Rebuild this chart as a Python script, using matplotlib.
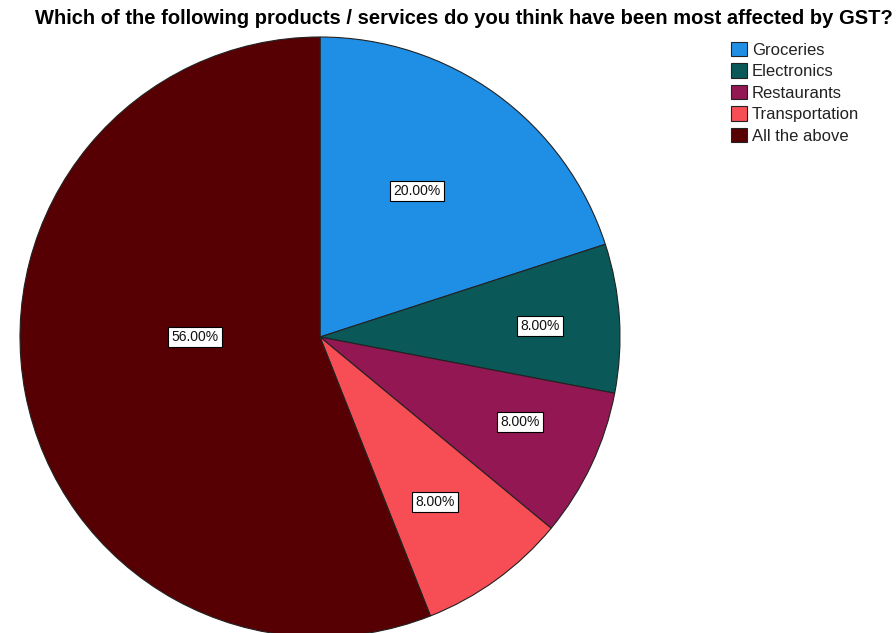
import numpy as np
import matplotlib.pyplot as plt

categories = ["Groceries", "Electronics", "Restaurants", "Transportation", "All the above"]
shares = [20.0, 8.0, 8.0, 8.0, 56.0]
colors = ["#1f8fe6", "#0b5858", "#931753", "#f74e56", "#560003"]
# where each percentage box sits: radius fraction and position along the wedge
label_r = [0.584, 0.734, 0.724, 0.67, 0.417]
label_frac = [0.467, 0.524, 0.424, 0.538, 0.554]

plt.rcParams["font.family"] = ["Liberation Sans", "DejaVu Sans"]

fig = plt.figure(figsize=(8.96, 6.33), dpi=100)
ax = fig.add_axes([20 / 896, -4 / 633, 600 / 896, 600 / 633])

wedges, _ = ax.pie(
    shares,
    colors=colors,
    startangle=90,
    counterclock=False,
    radius=1.0,
    wedgeprops=dict(edgecolor="#222222", linewidth=0.8),
)
ax.set_xlim(-1, 1)
ax.set_ylim(-1, 1)
ax.set_aspect("equal")
ax.axis("off")
for w in wedges:
    w.set_clip_on(False)

for w, val, r, f in zip(wedges, shares, label_r, label_frac):
    # wedges run clockwise, so theta2 is where each one starts
    ang = np.deg2rad(w.theta2 - f * (w.theta2 - w.theta1))
    ax.text(
        r * np.cos(ang), r * np.sin(ang), f"{val:.2f}%",
        ha="center", va="center", fontsize=10, color="#111111",
        bbox=dict(boxstyle="square,pad=0.22", facecolor="white",
                  edgecolor="black", linewidth=0.8),
    )

fig.text(464 / 896, 1 - 18 / 633,
         "Which of the following products / services do you think have been most affected by GST?",
         ha="center", va="center", fontsize=14.5, fontweight="bold")

leg = fig.legend(
    wedges, categories,
    loc="upper left", bbox_to_anchor=(731 / 896, 1 - 42 / 633),
    frameon=False, fontsize=12, handlelength=0.96, handleheight=0.96,
    handletextpad=0.3, labelspacing=0.33, borderaxespad=0, borderpad=0,
)
for t in leg.get_texts():
    t.set_color("#222222")

fig.savefig("out.png", dpi=100)
